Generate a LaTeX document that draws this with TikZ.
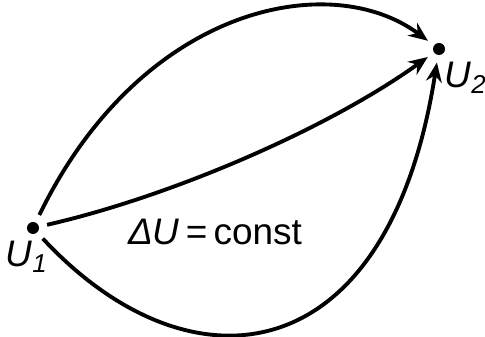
\documentclass[tikz,border=0pt]{standalone}
\usepackage{fontspec}
\setmainfont{Liberation Sans}
\usetikzlibrary{arrows.meta}

\begin{document}
\begin{tikzpicture}[
    x=0.01cm, y=-0.01cm,
    state/.style={circle, fill=black, inner sep=0pt, minimum size=0.12cm},
    lbl/.style={inner sep=0pt, font=\fontsize{10.5}{12}\selectfont\itshape},
    route/.style={-{Stealth[length=5.5pt,width=4.5pt,inset=1.8pt]}, line width=1.1pt,
      shorten <=2.2pt, shorten >=2pt}
  ]
    \useasboundingbox (0,0) rectangle (485,337);

    \node[state] (u1) at (33,228) {};
    \node[state] (u2) at (439,49) {};
    \node[lbl] (u1lbl) at (27,257) {U\textsubscript{1}};
    \node[lbl] (u2lbl) at (466,78) {U\textsubscript{2}};
    \node[lbl, font=\fontsize{10.5}{12}\selectfont] (du) at (215,232) {\textit{ΔU}\,=\,const};

    \draw[route] (u1) .. controls +(108,-222) and +(-109,-81) .. (u2);
    \draw[route] (u1) .. controls +(136,-31) and +(-113,81) .. (u2);
    \draw[route] (u1) .. controls +(156,168) and +(-51,327) .. (u2);
  \end{tikzpicture}
\end{document}
